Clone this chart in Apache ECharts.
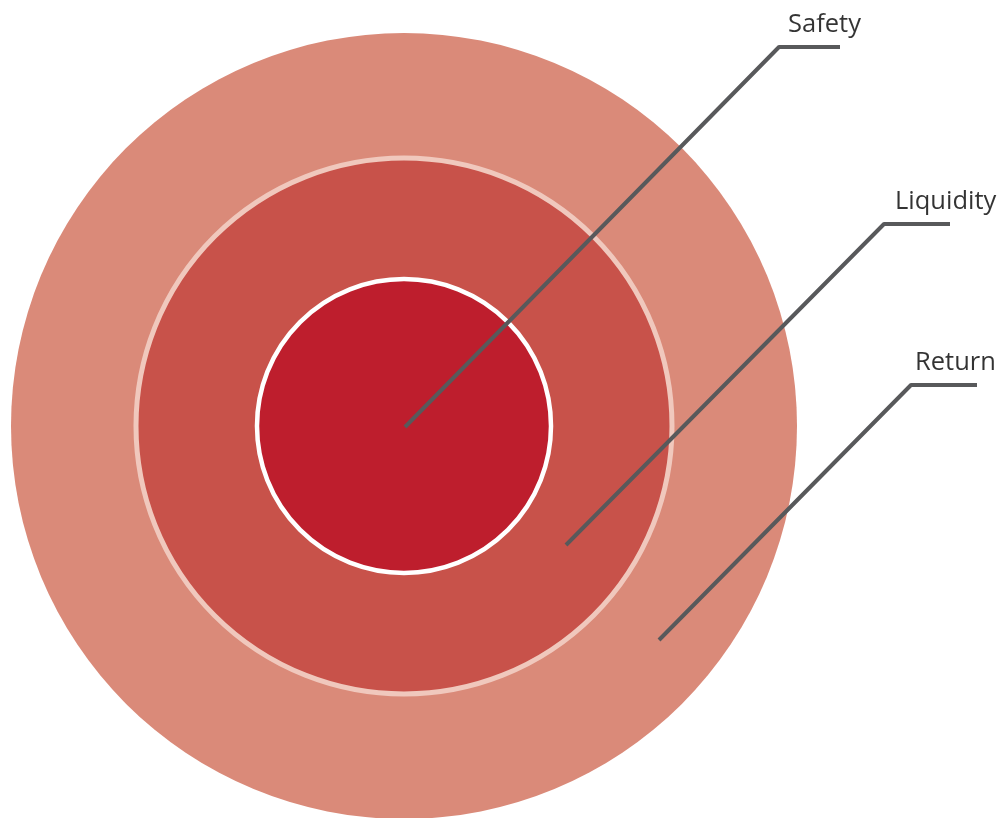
<!DOCTYPE html>
<html>
<head>
<meta charset="utf-8">
<script src="https://cdn.jsdelivr.net/npm/echarts@6/dist/echarts.min.js"></script>
<style>
  html, body { margin: 0; padding: 0; background: #fff; }
  #chart { width: 1005px; height: 818px; }
</style>
</head>
<body>
<div id="chart"></div>
<script>
// rings, outermost first (radius in chart units = px)
var ringNames = ['Return', 'Liquidity', 'Safety'];
var ringRadius = [393, 268, 147];
var ringCenter = [404, 426];

// leader lines: start point, elbow, end of the horizontal tick
var leaderNames = ['Safety', 'Liquidity', 'Return'];
var leaderStart = [[405, 427], [566, 545], [659, 640]];
var leaderElbow = [[779, 47], [884, 224], [911, 385]];
var leaderEnd = [[840, 47], [950, 224], [977, 385]];
var labelOffset = [9, 11, 4];

var ringColors = ['#da8a79', '#c8524a', '#be1e2d'];
var ringBorders = [null, '#f0c8bd', '#ffffff'];
var ringBorderWidth = [0, 5, 4.5];

var chart = echarts.init(document.getElementById('chart'));

var series = [];
ringNames.forEach(function (name, i) {
  series.push({
    name: name,
    type: 'scatter',
    symbol: 'circle',
    symbolSize: ringRadius[i] * 2,
    silent: true,
    z: 2 + i,
    itemStyle: {
      color: ringColors[i],
      borderColor: ringBorders[i] || ringColors[i],
      borderWidth: ringBorderWidth[i],
      opacity: 1
    },
    data: [ringCenter]
  });
});

leaderNames.forEach(function (name, i) {
  series.push({
    name: name + ' line',
    type: 'line',
    symbol: 'none',
    silent: true,
    z: 10,
    lineStyle: { color: '#58595b', width: 4 },
    data: [leaderStart[i], leaderElbow[i], leaderEnd[i]]
  });
});

series.push({
  name: 'labels',
  type: 'scatter',
  symbolSize: 0,
  silent: true,
  z: 11,
  label: {
    show: true,
    position: 'inside',
    align: 'left',
    verticalAlign: 'bottom',
    offset: [0, -9],
    fontFamily: 'Open Sans',
    fontSize: 25.5,
    color: '#000',
    textBorderWidth: 0,
    formatter: function (p) { return p.name; }
  },
  data: leaderNames.map(function (name, i) {
    return { name: name, value: [leaderElbow[i][0] + labelOffset[i], leaderElbow[i][1]] };
  })
});

chart.setOption({
  animation: false,
  grid: { left: 0, right: 0, top: 0, bottom: 0 },
  xAxis: { type: 'value', min: 0, max: 1005, show: false },
  yAxis: { type: 'value', min: 0, max: 818, inverse: true, show: false },
  series: series
});
</script>
</body>
</html>
